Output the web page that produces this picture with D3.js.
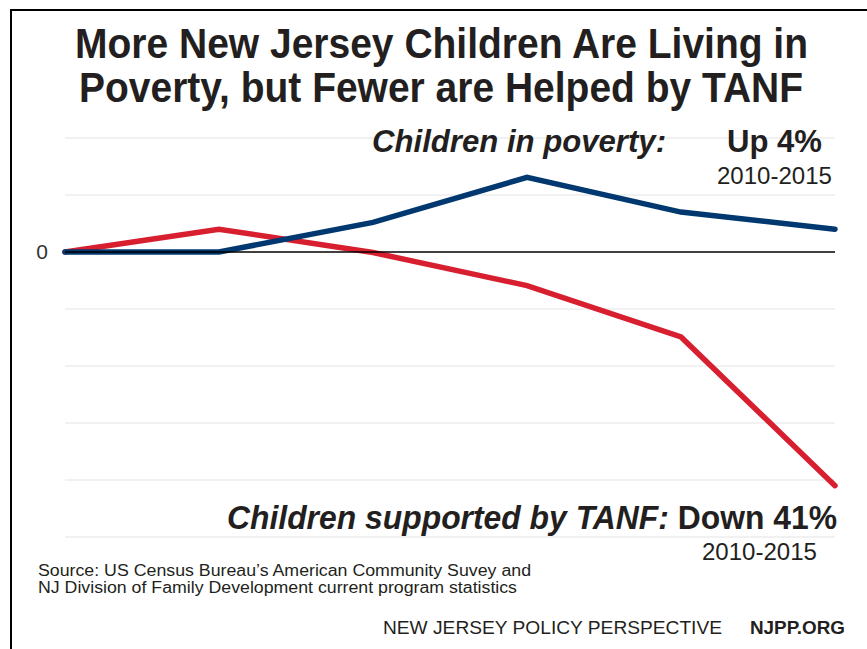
<!DOCTYPE html>
<html>
  <head>
    <meta charset="utf-8">
    <title>NJ Children in Poverty vs TANF</title>
    <style>
      body { margin: 0; background: #fff; }
      text { font-family: "Liberation Sans", Arial, sans-serif; fill: #231f20; }
    </style>
    <script src="https://cdn.jsdelivr.net/npm/d3@7"></script>
  </head>
  <body>
    <script type="text/javascript">
      var width = 867, height = 649;

      // percent change since 2010
      var years = [2010, 2011, 2012, 2013, 2014, 2015];
      var povertyChange = [0, 0, 5.2, 13.1, 7.0, 4.0];
      var tanfChange = [0, 4.0, -0.1, -5.9, -14.9, -41.0];
      var gridValues = [20, 10, 0, -10, -20, -30, -40, -50];

      var svg = d3.select("body")
        .append("svg")
        .attr("width", width)
        .attr("height", height);

      // frame (top + left edge)
      svg.append("path")
        .attr("d", "M11,649 L11,10 L867,10")
        .attr("fill", "none")
        .attr("stroke", "#000")
        .attr("stroke-width", 2);

      var x = d3.scaleLinear().domain([2010, 2015]).range([65, 835]);
      var y = d3.scaleLinear().domain([-50, 20]).range([537, 138]);

      // title
      var title = svg.append("g");
      title.append("text")
        .attr("x", 75).attr("y", 58)
        .attr("textLength", 733).attr("lengthAdjust", "spacingAndGlyphs")
        .style("font-size", "42px").style("font-weight", "bold")
        .text("More New Jersey Children Are Living in");
      title.append("text")
        .attr("x", 79).attr("y", 102)
        .attr("textLength", 724).attr("lengthAdjust", "spacingAndGlyphs")
        .style("font-size", "42px").style("font-weight", "bold")
        .text("Poverty, but Fewer are Helped by TANF");

      // gridlines
      svg.append("g").selectAll("line")
        .data(gridValues.filter(function(d) { return d !== 0; }))
        .enter().append("line")
          .attr("x1", x(2010)).attr("x2", x(2015))
          .attr("y1", function(d) { return y(d); })
          .attr("y2", function(d) { return y(d); })
          .attr("stroke", "#e3e3e3")
          .attr("stroke-width", 1);

      // label for zero
      svg.append("text")
        .attr("x", 42).attr("y", y(0) + 7)
        .attr("text-anchor", "middle")
        .style("font-size", "21px").style("fill", "#333")
        .text("0");

      var line = d3.line()
        .x(function(d, i) { return x(years[i]); })
        .y(function(d) { return y(d); });

      svg.append("path")
        .datum(tanfChange)
        .attr("d", line)
        .attr("fill", "none")
        .attr("stroke", "#d71f30")
        .attr("stroke-width", 5.5)
        .attr("stroke-linecap", "round");

      svg.append("path")
        .datum(povertyChange)
        .attr("d", line)
        .attr("fill", "none")
        .attr("stroke", "#00386f")
        .attr("stroke-width", 5.5)
        .attr("stroke-linecap", "round");

      // zero line
      svg.append("line")
        .attr("x1", x(2010)).attr("x2", x(2015))
        .attr("y1", y(0)).attr("y2", y(0))
        .attr("stroke", "#000")
        .attr("stroke-width", 1.5);

      // annotations
      svg.append("text")
        .attr("x", 372).attr("y", 152)
        .attr("textLength", 294).attr("lengthAdjust", "spacingAndGlyphs")
        .style("font-size", "31px").style("font-weight", "bold").style("font-style", "italic")
        .text("Children in poverty:");
      svg.append("text")
        .attr("x", 727).attr("y", 152)
        .attr("textLength", 95).attr("lengthAdjust", "spacingAndGlyphs")
        .style("font-size", "31px").style("font-weight", "bold")
        .text("Up 4%");
      svg.append("text")
        .attr("x", 717).attr("y", 184)
        .attr("textLength", 115).attr("lengthAdjust", "spacingAndGlyphs")
        .style("font-size", "24px")
        .text("2010-2015");

      var tanfLabel = svg.append("text")
        .attr("x", 227).attr("y", 529)
        .attr("textLength", 610).attr("lengthAdjust", "spacingAndGlyphs")
        .style("font-size", "33px").style("font-weight", "bold");
      tanfLabel.append("tspan")
        .style("font-style", "italic")
        .text("Children supported by TANF: ");
      tanfLabel.append("tspan")
        .text("Down 41%");
      svg.append("text")
        .attr("x", 702).attr("y", 560)
        .attr("textLength", 115).attr("lengthAdjust", "spacingAndGlyphs")
        .style("font-size", "24px")
        .text("2010-2015");

      // source
      svg.append("text")
        .attr("x", 38).attr("y", 576)
        .attr("textLength", 493).attr("lengthAdjust", "spacingAndGlyphs")
        .style("font-size", "16px")
        .text("Source: US Census Bureau\u2019s American Community Suvey and");
      svg.append("text")
        .attr("x", 38).attr("y", 593)
        .attr("textLength", 479).attr("lengthAdjust", "spacingAndGlyphs")
        .style("font-size", "16px")
        .text("NJ Division of Family Development current program statistics");

      // footer
      svg.append("text")
        .attr("x", 383).attr("y", 634)
        .attr("textLength", 339).attr("lengthAdjust", "spacingAndGlyphs")
        .style("font-size", "18px")
        .text("NEW JERSEY POLICY PERSPECTIVE");
      svg.append("text")
        .attr("x", 750).attr("y", 634)
        .attr("textLength", 95).attr("lengthAdjust", "spacingAndGlyphs")
        .style("font-size", "18px").style("font-weight", "bold")
        .text("NJPP.ORG");
    </script>
  </body>
</html>
